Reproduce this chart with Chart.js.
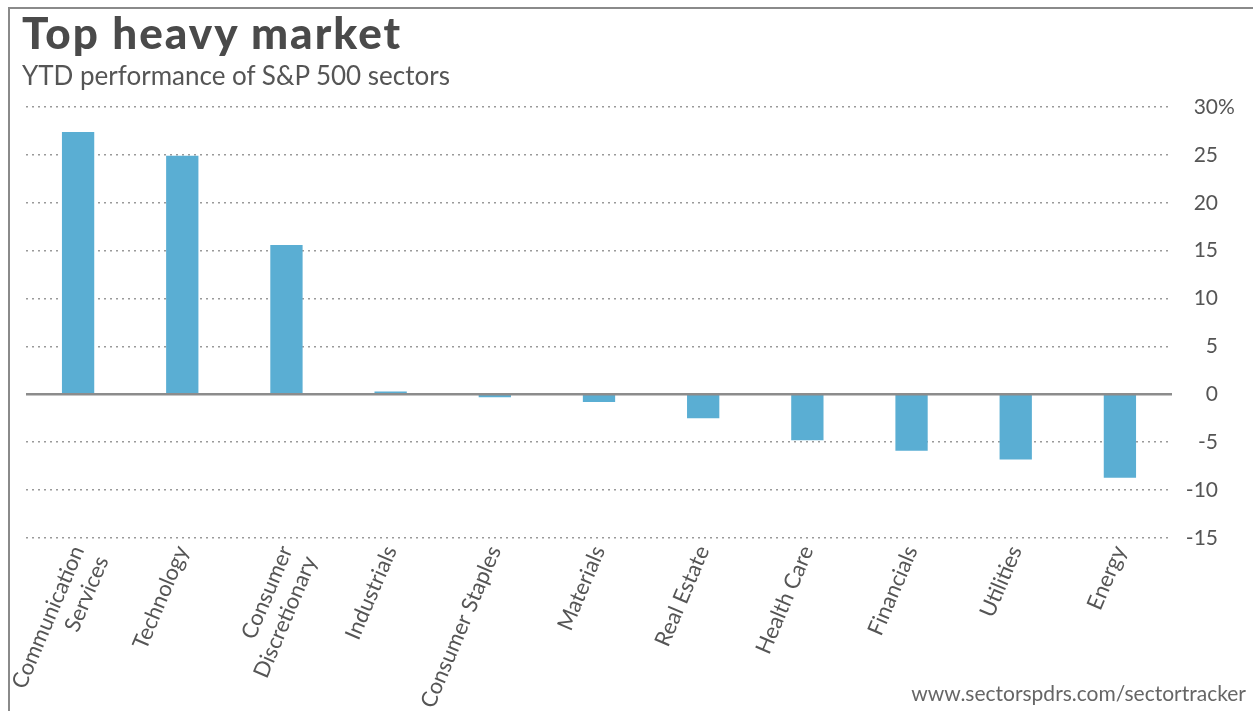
<!DOCTYPE html>
<html>
<head>
<meta charset="utf-8">
<script src="https://cdn.jsdelivr.net/npm/chart.js@4.4.1/dist/chart.umd.min.js"></script>
<style>
  html, body { margin:0; padding:0; background:#fff; width:1253px; height:711px; overflow:hidden; }
  #frame { position:absolute; left:8px; top:7px; width:1245px; height:704px; border-left:2px solid #8a8a8a; border-top:2px solid #8a8a8a; box-sizing:border-box; }
  #title { position:absolute; left:22px; top:6px; font-family:Lato, sans-serif; font-weight:900; font-size:44px; letter-spacing:2px; line-height:normal; color:#4a4a4a; white-space:nowrap; }
  #subtitle { position:absolute; left:22px; top:59px; font-family:Lato, sans-serif; font-weight:400; font-size:26px; line-height:normal; color:#555; white-space:nowrap; }
  #source { position:absolute; right:7px; top:680px; font-family:Lato, sans-serif; font-size:21px; line-height:normal; color:#666; white-space:nowrap; }
  #wrap { position:absolute; left:0; top:0; width:1253px; height:711px; }
</style>
</head>
<body>
<div id="frame"></div>
<div id="wrap"><canvas id="c"></canvas></div>
<div id="title">Top heavy market</div>
<div id="subtitle">YTD performance of S&amp;P 500 sectors</div>
<div id="source">www.sectorspdrs.com/sectortracker</div>
<script>
const categories = [
  ["Communication", "Services"],
  "Technology",
  ["Consumer", "Discretionary"],
  "Industrials",
  "Consumer Staples",
  "Materials",
  "Real Estate",
  "Health Care",
  "Financials",
  "Utilities",
  "Energy"
];
const ytdValues = [27.4, 24.9, 15.6, 0.3, -0.3, -0.8, -2.5, -4.8, -5.9, -6.8, -8.7];
const yTickValues = [-15, -10, -5, 0, 5, 10, 15, 20, 25, 30];
const yTickLabels = ["-15", "-10", "-5", "0", "5", "10", "15", "20", "25", "30%"];

const FONT = "Lato, 'Open Sans', sans-serif";
const Y_FONT_SIZE = 21;

const zeroLinePlugin = {
  id: 'zeroLine',
  afterDatasetsDraw(chart) {
    const { ctx, chartArea, scales } = chart;
    const py = scales.y.getPixelForValue(0);
    ctx.save();
    ctx.strokeStyle = '#8c8c8c';
    ctx.lineWidth = 2.5;
    ctx.beginPath();
    ctx.moveTo(chartArea.left, py);
    ctx.lineTo(chartArea.right, py);
    ctx.stroke();
    ctx.restore();
  }
};

// draws the hanging "%" after the top tick label so the numbers stay right-aligned
const percentPlugin = {
  id: 'percentSuffix',
  afterDraw(chart) {
    const y = chart.scales.y;
    const ctx = chart.ctx;
    let xRight = y.right;
    try {
      const items = y.getLabelItems();
      const it = items.find(o => o.label === '30');
      if (it && it.options && Array.isArray(it.options.translation) && isFinite(it.options.translation[0])) {
        xRight = it.options.translation[0];
      }
    } catch (e) {}
    ctx.save();
    ctx.font = Y_FONT_SIZE + "px " + FONT;
    ctx.fillStyle = '#555';
    ctx.textBaseline = 'middle';
    ctx.textAlign = 'left';
    yTickLabels.forEach((lab, i) => {
      if (lab.endsWith('%')) {
        ctx.fillText('%', xRight, y.getPixelForValue(yTickValues[i]));
      }
    });
    ctx.restore();
  }
};

new Chart(document.getElementById('c'), {
  type: 'bar',
  data: {
    labels: categories,
    datasets: [{
      data: ytdValues,
      backgroundColor: '#5aaed3',
      borderWidth: 0,
      barPercentage: 0.31,
      categoryPercentage: 1.0
    }]
  },
  options: {
    responsive: true,
    maintainAspectRatio: false,
    animation: false,
    devicePixelRatio: 1,
    layout: { padding: { left: 26, top: 107, right: 35, bottom: 0 } },
    plugins: { legend: { display: false }, tooltip: { enabled: false }, title: { display: false } },
    scales: {
      x: {
        offset: true,
        grid: { display: false, drawTicks: false },
        border: { display: false },
        ticks: {
          autoSkip: false,
          minRotation: 67,
          maxRotation: 67,
          padding: 4,
          color: '#555',
          font: { family: FONT, size: 22 }
        },
        afterFit(axis) { axis.height = 173; }
      },
      y: {
        position: 'right',
        min: -15,
        max: 30,
        afterBuildTicks(axis) { axis.ticks = yTickValues.map(v => ({ value: v })); },
        grid: {
          drawTicks: false,
          lineWidth: 1.5,
          color: (ctx) => (ctx.tick && ctx.tick.value === 0) ? 'rgba(0,0,0,0)' : '#9a9a9a'
        },
        border: { display: false, dash: [2, 4] },
        ticks: {
          padding: 8,
          crossAlign: 'far',
          color: '#555',
          font: { family: FONT, size: Y_FONT_SIZE },
          callback: (v) => {
            const i = yTickValues.indexOf(v);
            return i >= 0 ? yTickLabels[i].replace('%', '') : '';
          }
        },
        afterFit(axis) { axis.width = 46; }
      }
    }
  },
  plugins: [zeroLinePlugin, percentPlugin]
});
</script>
</body>
</html>
